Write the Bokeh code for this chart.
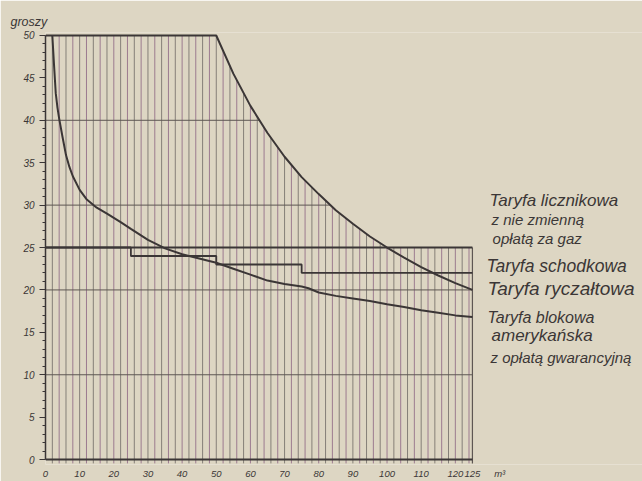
import numpy as np
from bokeh.plotting import figure
from bokeh.models import Range1d, FixedTicker, ColumnDataSource
from bokeh.core.properties import value
from bokeh.embed import file_html
from bokeh.resources import INLINE

# ---------------- data ----------------
# Taryfa licznikowa z niezmienną opłatą za gaz
lic_x = [0, 50, 55, 60, 65, 70, 75, 80, 85, 90, 95, 100, 105, 110, 115, 120, 125]
lic_y = [50, 50, 45.5, 41.7, 38.5, 35.7, 33.3, 31.3, 29.4, 27.8, 26.3, 25.0, 23.8, 22.7, 21.7, 20.8, 20.0]

# Taryfa ryczałtowa
rycz_x = [0, 125]
rycz_y = [25, 25]

# Taryfa schodkowa (step edges and levels)
schod_edges = [0, 25, 50, 75, 125]
schod_levels = [25, 24, 23, 22]

# Taryfa blokowa amerykańska z opłatą gwarancyjną
blok_x = [2, 2.5, 3, 3.5, 4, 5, 6, 7, 8, 10, 12, 15, 18, 20, 22, 25, 30, 35, 40, 45,
          50, 55, 60, 65, 70, 75, 77, 80, 85, 90, 95, 100, 105, 110, 115, 120, 125]
blok_y = [50, 46.5, 43.2, 41.5, 40.2, 38.0, 35.9, 34.5, 33.4, 31.8, 30.7, 29.7, 29.0, 28.5, 28.0,
          27.2, 25.9, 24.9, 24.2, 23.7, 23.2, 22.5, 21.8, 21.1, 20.7, 20.4, 20.2, 19.7, 19.3,
          19.0, 18.7, 18.3, 18.0, 17.6, 17.3, 17.0, 16.8]

x_ticks = [0, 10, 20, 30, 40, 50, 60, 70, 80, 90, 100, 110, 120, 125]
x_unit = "m³"
y_ticks = [0, 5, 10, 15, 20, 25, 30, 35, 40, 45, 50]
y_unit = "groszy"
grid_full = [10, 20]
grid_curve = [30, 40]

labels = ["Taryfa licznikowa", "z nie zmienną", "opłatą za gaz",
          "Taryfa schodkowa", "Taryfa ryczałtowa",
          "Taryfa blokowa", "amerykańska", "z opłatą gwarancyjną"]

# ---------------- style / layout ----------------
BG = "#ddd6c3"
INK = "#3b3636"
GRID = "#5e5753"
PURPLE = "#9c7b8f"
GRAY = "#857f78"

lab_x = [130.0, 130.6, 130.9, 129.1, 129.4, 129.4, 130.6, 130.3]
lab_y = [30.6, 28.3, 26.05, 22.8, 20.2, 16.7, 14.6, 12.0]
lab_size = ["17px", "15px", "15px", "17.5px", "19px", "16px", "17px", "15px"]
UNIT_POS = 133
HATCH_BELOW = -0.45

p = figure(width=642, height=481, output_backend="svg", toolbar_location=None,
           x_range=Range1d(0, 174.8), y_range=Range1d(-0.58, 50.35),
           min_border_left=45, min_border_right=0, min_border_top=32, min_border_bottom=0)
p.background_fill_color = BG
p.border_fill_color = BG
p.outline_line_color = None
p.grid.visible = False

p.title.text = y_unit
p.title.align = "left"
p.title.offset = -35
p.title.standoff = 8
p.title.text_font = "Liberation Sans"
p.title.text_font_style = "italic"
p.title.text_font_size = "12.5px"
p.title.text_color = INK

# hatch: vertical lines every 2 units under the upper envelope
hx = np.arange(2, 125, 2)
tops = np.maximum(np.interp(hx, lic_x, lic_y), rycz_y[0])
cols = [PURPLE if (int(v) // 2) % 2 == 0 else GRAY for v in hx]
p.segment(x0=hx, y0=np.full(len(hx), HATCH_BELOW), x1=hx, y1=tops, line_color=cols, line_width=1)
# right edge
p.segment(x0=[rycz_x[1]], y0=[HATCH_BELOW], x1=[rycz_x[1]], y1=[rycz_y[1]], line_color=GRID, line_width=1.2)

# horizontal grid lines
p.segment(x0=[0] * len(grid_full), y0=grid_full, x1=[125] * len(grid_full), y1=grid_full,
          line_color=GRID, line_width=1)
rev_y = lic_y[::-1]
rev_x = lic_x[::-1]
gx_end = [float(np.interp(g, rev_y, rev_x)) for g in grid_curve]
p.segment(x0=[0] * len(grid_curve), y0=grid_curve, x1=gx_end, y1=grid_curve,
          line_color=GRID, line_width=1)

# x axis base line
p.segment(x0=[0], y0=[0], x1=[x_ticks[-1]], y1=[0], line_color=INK, line_width=2)

# curves
p.line(lic_x, lic_y, line_color=INK, line_width=2)
p.line(rycz_x, rycz_y, line_color=INK, line_width=2)
sx, sy = [], []
for i, lv in enumerate(schod_levels):
    sx += [schod_edges[i], schod_edges[i + 1]]
    sy += [lv, lv]
p.line(sx, sy, line_color=INK, line_width=1.8)
p.line(blok_x, blok_y, line_color=INK, line_width=2)

# right-hand labels
src = ColumnDataSource(dict(x=lab_x, y=lab_y, t=labels, s=lab_size))
p.text(x="x", y="y", text="t", source=src, text_font=value("Liberation Sans"),
       text_font_style="italic", text_font_size="s", text_color=INK,
       text_baseline="middle", text_align="left")

# axes
xa = p.xaxis[0]
xa.ticker = FixedTicker(ticks=x_ticks + [UNIT_POS], minor_ticks=[])
xa.major_label_overrides = {UNIT_POS: x_unit}
xa.axis_line_color = None
xa.major_tick_line_color = None
xa.minor_tick_line_color = None
xa.major_tick_in = 0
xa.major_tick_out = 2
xa.major_label_standoff = 1
xa.major_label_text_font = "Liberation Sans"
xa.major_label_text_font_style = "italic"
xa.major_label_text_font_size = "9.5px"
xa.major_label_text_color = INK

ya = p.yaxis[0]
ya.ticker = FixedTicker(ticks=y_ticks, minor_ticks=list(range(0, 51)))
ya.bounds = (0, 50)
ya.axis_line_color = INK
ya.axis_line_width = 1.5
ya.major_tick_line_color = INK
ya.minor_tick_line_color = INK
ya.major_tick_in = 0
ya.major_tick_out = 6
ya.minor_tick_in = 0
ya.minor_tick_out = 3
ya.major_label_standoff = 5
ya.major_label_text_font = "Liberation Sans"
ya.major_label_text_font_style = "italic"
ya.major_label_text_font_size = "10px"
ya.major_label_text_color = INK

open("out.html", "w").write(file_html(p, INLINE))
